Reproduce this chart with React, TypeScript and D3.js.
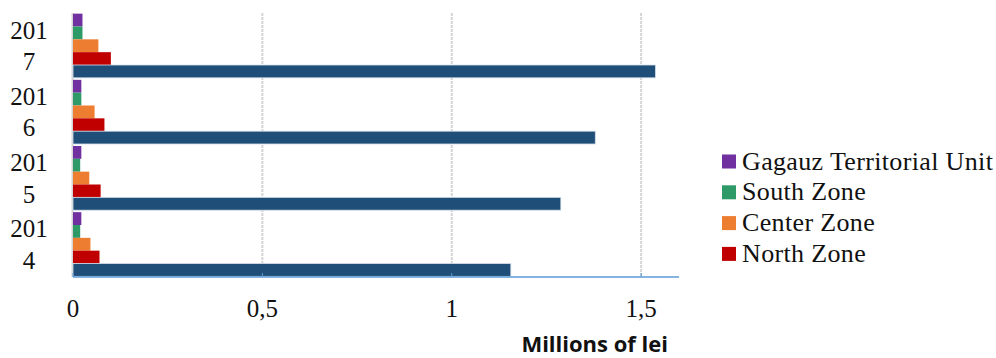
import React from "react";
import * as d3 from "d3";

const categories = ["2017", "2016", "2015", "2014"];
const seriesNames = ["Gagauz Territorial Unit", "South Zone", "Center Zone", "North Zone", "Chisinau"];
const gagauz = [0.025, 0.022, 0.022, 0.022];
const south = [0.025, 0.022, 0.019, 0.019];
const center = [0.067, 0.057, 0.043, 0.046];
const north = [0.1, 0.083, 0.073, 0.07];
const chisinau = [1.538, 1.379, 1.288, 1.156];
const xTicks = [0, 0.5, 1, 1.5];
const xTickLabels = ["0", "0,5", "1", "1,5"];
const legendSeries = ["Gagauz Territorial Unit", "South Zone", "Center Zone", "North Zone"];
const axisTitle = "Millions of lei";

const colors = ["#7030a0", "#2e9a68", "#ed7d31", "#c00000", "#1f4e79"];
const seriesValues = [gagauz, south, center, north, chisinau];

export default function App() {
  const W = 996, H = 358;
  const left = 73, right = 679, top = 13, bottom = 277;
  const x = d3.scaleLinear().domain([0, 1.6]).range([left, right]);
  const y = d3.scaleBand<string>().domain(categories).range([top, bottom]).paddingInner(0.03).paddingOuter(0.01);
  const inner = d3.scaleBand<number>().domain(d3.range(seriesNames.length)).range([0, y.bandwidth()]);
  const serif = "'Liberation Serif', 'Times New Roman', serif";

  return (
    <svg width={W} height={H} style={{ position: "absolute", left: 0, top: 0, display: "block", background: "#fff" }}>
      {xTicks.slice(1).map((t) => (
        <line key={t} x1={x(t)} x2={x(t)} y1={top} y2={bottom} stroke="#d4d4d4" strokeWidth={2} strokeDasharray="3,1" />
      ))}
      <line x1={left - 0.5} x2={left - 0.5} y1={top} y2={bottom} stroke="#d4d4d4" strokeWidth={2} />
      {categories.map((c, ci) => (
        <g key={c}>
          {seriesValues.map((vals, si) => (
            <rect
              key={si}
              x={x(0)}
              y={(y(c) as number) + (inner(si) as number)}
              width={x(vals[ci]) - x(0)}
              height={inner.bandwidth()}
              fill={colors[si]}
              stroke={si === 4 ? "#d6e0ea" : "none"}
              strokeWidth={si === 4 ? 0.8 : 0}
            />
          ))}
          <text fontFamily={serif} fontSize={25} fill="#111" textAnchor="middle">
            <tspan x={29} y={(y(c) as number) + y.bandwidth() / 2 - 7}>{c.slice(0, 3)}</tspan>
            <tspan x={29} y={(y(c) as number) + y.bandwidth() / 2 + 24.5}>{c.slice(3)}</tspan>
          </text>
        </g>
      ))}
      <line x1={left} x2={right} y1={bottom} y2={bottom} stroke="#5b9bd5" strokeWidth={1.5} />
      {xTicks.map((t, i) => (
        <g key={t}>
          <line x1={x(t)} x2={x(t)} y1={bottom - 4} y2={bottom} stroke="#5b9bd5" strokeWidth={1} />
          <text x={x(t)} y={317} textAnchor="middle" fontFamily={serif} fontSize={25} fill="#111">
            {xTickLabels[i]}
          </text>
        </g>
      ))}
      <text x={668} y={352} textAnchor="end" fontFamily="'Open Sans', 'Liberation Sans', sans-serif" fontWeight="bold" fontSize={22} fill="#111">
        {axisTitle}
      </text>
      {legendSeries.map((s, i) => (
        <g key={s} transform={`translate(722, ${161.5 + i * 30.8})`}>
          <rect x={0} y={-7} width={14} height={14} fill={colors[i]} />
          <text x={20} y={8} fontFamily={serif} fontSize={26} letterSpacing={0.35} fill="#111">{s}</text>
        </g>
      ))}
    </svg>
  );
}
